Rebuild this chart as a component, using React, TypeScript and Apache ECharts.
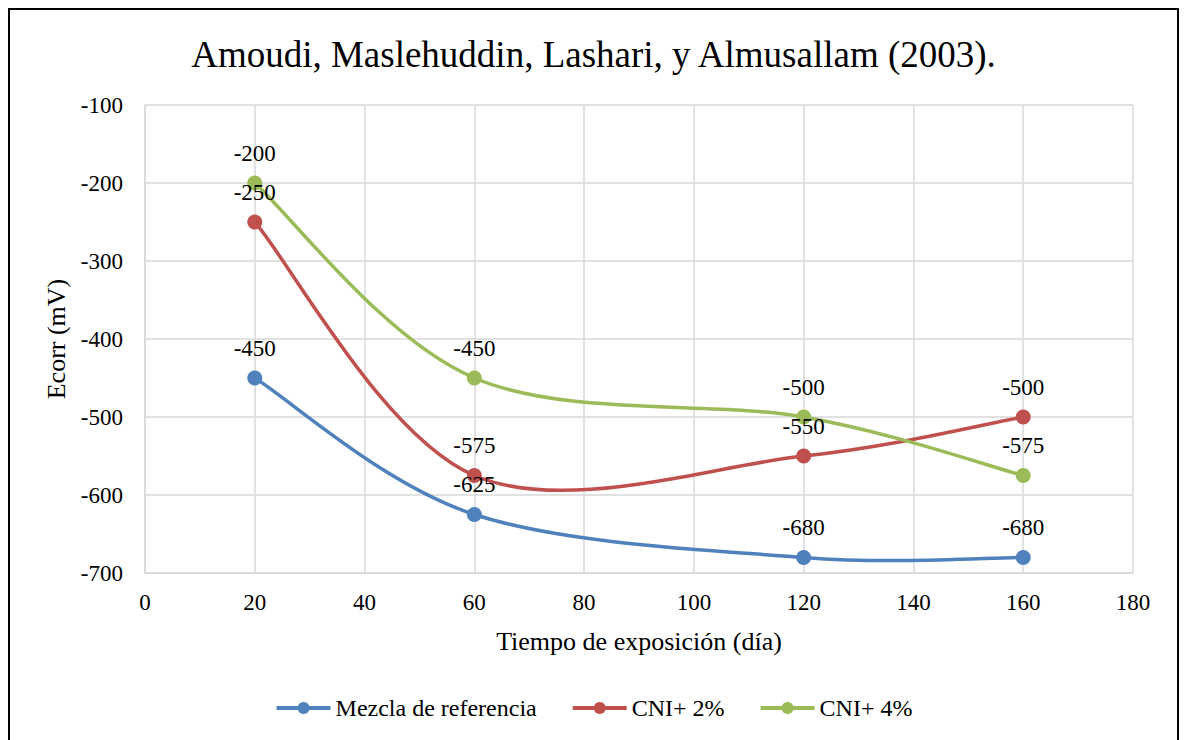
import React, { useEffect, useRef } from "react";
import * as echarts from "echarts";

const titleText = "Amoudi, Maslehuddin, Lashari, y Almusallam (2003).";
const days = [20, 60, 120, 160];
const mezcla = [-450, -625, -680, -680];
const cni2 = [-250, -575, -550, -500];
const cni4 = [-200, -450, -500, -575];
const seriesNames = ["Mezcla de referencia", "CNI+ 2%", "CNI+ 4%"];
const seriesValues = [mezcla, cni2, cni4];
const colors = ["#4f81bd", "#c0504d", "#9bbb59"];

const FONT = "Liberation Serif";

export default function App() {
  const ref = useRef<HTMLDivElement>(null);
  useEffect(() => {
    if (!ref.current) return;
    const chart = echarts.init(ref.current, undefined, { renderer: "svg" });

    // Excel-style smoothed line: cubic Bezier segments with Catmull-Rom tangents / 6
    const curve = (idx: number) => {
      const vals = seriesValues[idx];
      const color = colors[idx];
      const n = days.length;
      return {
        name: "_curve" + idx,
        type: "custom",
        z: 1,
        silent: true,
        data: days.map((d, i) => [d, vals[i]]),
        encode: { x: 0, y: 1 },
        renderItem: (params: any, api: any) => {
          const i = params.dataIndex;
          if (i >= n - 1) return null;
          const c = (j: number) => {
            const k = Math.max(0, Math.min(n - 1, j));
            return api.coord([days[k], vals[k]]);
          };
          const p0 = c(i - 1);
          const p1 = c(i);
          const p2 = c(i + 1);
          const p3 = c(i + 2 > n - 1 ? i + 1 : i + 2);
          return {
            type: "bezierCurve",
            shape: {
              x1: p1[0],
              y1: p1[1],
              x2: p2[0],
              y2: p2[1],
              cpx1: p1[0] + (p2[0] - p0[0]) / 6,
              cpy1: p1[1] + (p2[1] - p0[1]) / 6,
              cpx2: p2[0] - (p3[0] - p1[0]) / 6,
              cpy2: p2[1] - (p3[1] - p1[1]) / 6,
            },
            style: { stroke: color, lineWidth: 3.5, fill: "none" },
          };
        },
      };
    };

    const markers = (idx: number) => ({
      name: seriesNames[idx],
      type: "line",
      z: 3,
      data: days.map((d, i) => [d, seriesValues[idx][i]]),
      symbol: "circle",
      symbolSize: 15,
      itemStyle: { color: colors[idx] },
      lineStyle: { color: colors[idx], width: 0 },
      label: {
        show: true,
        position: "top",
        distance: 11,
        color: "#000",
        fontFamily: FONT,
        fontSize: 23,
      },
    });

    chart.setOption({
      animation: false,
      textStyle: { fontFamily: FONT },
      title: {
        text: titleText,
        left: "center",
        top: 21,
        textStyle: { fontFamily: FONT, fontSize: 37, fontWeight: "normal", color: "#000" },
      },
      grid: { left: 135, top: 95, width: 988, height: 468 },
      legend: {
        top: 681,
        left: "center",
        itemWidth: 54,
        itemHeight: 15,
        itemGap: 34,
        textStyle: { fontFamily: FONT, fontSize: 24, color: "#000" },
        data: seriesNames.map((name, i) => ({
          name,
          itemStyle: { color: colors[i] },
          lineStyle: { color: colors[i], width: 4 },
        })),
      },
      xAxis: {
        type: "value",
        min: 0,
        max: 180,
        interval: 20,
        name: "Tiempo de exposición (día)",
        nameLocation: "middle",
        nameGap: 55,
        nameTextStyle: { fontFamily: FONT, fontSize: 26, color: "#000" },
        axisLine: { show: true, lineStyle: { color: "#d9d9d9", width: 1.5 } },
        axisTick: { show: false },
        splitLine: { show: true, lineStyle: { color: "#d9d9d9", width: 1.5 } },
        axisLabel: { fontFamily: FONT, fontSize: 23, color: "#000", margin: 18 },
      },
      yAxis: {
        type: "value",
        min: -700,
        max: -100,
        interval: 100,
        name: "Ecorr (mV)",
        nameLocation: "middle",
        nameGap: 74,
        nameRotate: 90,
        nameTextStyle: { fontFamily: FONT, fontSize: 26, color: "#000" },
        axisLine: { show: true, lineStyle: { color: "#d9d9d9", width: 1.5 } },
        axisTick: { show: false },
        splitLine: { show: true, lineStyle: { color: "#d9d9d9", width: 1.5 } },
        axisLabel: { fontFamily: FONT, fontSize: 23, color: "#000", margin: 22 },
      },
      series: [curve(0), curve(1), curve(2), markers(0), markers(1), markers(2)],
    });
    return () => chart.dispose();
  }, []);
  return (
    <div style={{ width: 1171, height: 732, overflow: "hidden" }}>
      <div
        style={{
          width: 1171,
          height: 760,
          border: "2px solid #000",
          boxSizing: "border-box",
          background: "#fff",
        }}
      >
        <div ref={ref} style={{ width: 1167, height: 756 }} />
      </div>
    </div>
  );
}
